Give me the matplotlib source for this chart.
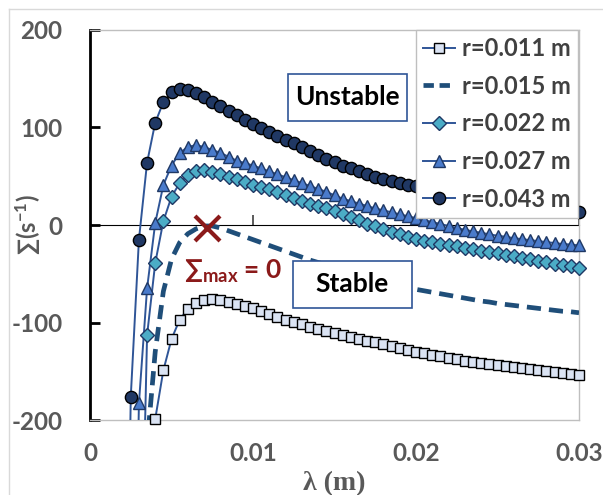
import numpy as np
import matplotlib
matplotlib.use("Agg")
import matplotlib.pyplot as plt
from matplotlib.lines import Line2D
from matplotlib.patches import Rectangle

plt.rcParams['font.family'] = ['Lato', 'DejaVu Sans']
plt.rcParams['mathtext.fontset'] = 'custom'
plt.rcParams['mathtext.rm'] = 'Lato:bold'
plt.rcParams['mathtext.it'] = 'Lato:bold'
plt.rcParams['mathtext.bf'] = 'Lato:bold'
plt.rcParams['axes.unicode_minus'] = False

nan = np.nan
# wavelength grid (m)
lam = [0.002, 0.0025, 0.003, 0.0035, 0.004, 0.0045, 0.005, 0.0055, 0.006, 0.0065,
       0.007, 0.0075, 0.008, 0.0085, 0.009, 0.0095, 0.010, 0.0105, 0.011, 0.0115,
       0.012, 0.0125, 0.013, 0.0135, 0.014, 0.0145, 0.015, 0.0155, 0.016, 0.0165,
       0.017, 0.0175, 0.018, 0.0185, 0.019, 0.0195, 0.020, 0.0205, 0.021, 0.0215,
       0.022, 0.0225, 0.023, 0.0235, 0.024, 0.0245, 0.025, 0.0255, 0.026, 0.0265,
       0.027, 0.0275, 0.028, 0.0285, 0.029, 0.0295, 0.030]

s_011 = [nan, nan, nan, -560, -199, -149, -117, -97, -86, -80,
         -77, -76, -77, -79, -81, -83, -85, -88, -91, -94,
         -97, -99.5, -102, -104.5, -106.5, -108.5, -110.5, -112.5, -114.5, -116.5,
         -118.5, -120.5, -122.5, -124.5, -126.5, -128.5, -130, -131.5, -133, -134.5,
         -136, -137.5, -139, -140.5, -141.5, -142.5, -143.5, -144.5, -145.5, -146.5,
         -147.5, -148.5, -149.5, -150.5, -151.5, -152.5, -153.5]
s_015 = [nan, nan, -600, -225, -130, -68, -35, -18, -9, -4,
         -1, -1, -3, -6, -9, -12, -15, -18, -21, -24,
         -27, -30, -33, -36, -38.5, -41, -43.5, -46, -48.5, -51,
         -53.5, -56, -58, -60, -62, -64, -66, -67.5, -69, -70.5,
         -72, -73.5, -75, -76.5, -78, -79, -80.5, -81.5, -82.5, -83.5,
         -84.5, -85.5, -86.5, -87.5, -88.5, -89, -90]
s_022 = [nan, nan, -480, -113, -39, 4, 29, 43, 51, 55,
         56, 54, 52, 49.5, 47, 44, 41.5, 39, 37, 34,
         31, 28, 25, 22, 19.5, 17, 14, 11, 8, 5,
         1.5, -1.5, -4.5, -7, -9.5, -12, -14, -16, -17.5, -19,
         -20.5, -22, -23.5, -25, -26.5, -28, -29, -30.5, -32, -33.5,
         -35, -36.5, -38, -39.5, -41, -42.5, -44]
s_027 = [nan, -650, -183, -65, 2, 41, 61, 74, 80, 82,
         80, 77, 74, 70, 66, 63.5, 61, 58, 55, 52,
         49, 46, 43, 40, 37, 34, 30.5, 27, 24.5, 22,
         19.5, 17, 15, 13, 11, 9, 7, 5, 3, 1,
         -1, -3, -5, -6.5, -8, -9.5, -11, -12, -13.5, -14.5,
         -15.5, -16.5, -17.5, -18.5, -19.5, -20, -21]
s_043 = [-700, -176, -15, 64, 105, 126, 136, 139, 138, 135,
         131, 126, 122, 117, 113, 108, 103.5, 99, 95, 91,
         87.5, 84, 80, 76, 72, 68, 64.5, 61, 58, 55,
         52, 49, 47, 45, 43, 41.5, 40, 38, 36, 34.5,
         33, 31, 29.5, 28, 26.5, 25, 23.5, 22, 21, 20,
         19, 18, 17, 16, 15, 14, 13]

labels = ["r=0.011 m", "r=0.015 m", "r=0.022 m", "r=0.027 m", "r=0.043 m"]
max_point = (0.0072, -3)

line_c = "#2F5597"
styles = [
    dict(marker="s", ms=7.2, mfc="#DAE3F3", mec="black"),
    None,
    dict(marker="D", ms=6.8, mfc="#4BACC6", mec="#1F3864"),
    dict(marker="^", ms=8.8, mfc="#4A7BCB", mec="#1F3864"),
    dict(marker="o", ms=8.8, mfc="#203864", mec="black"),
]

fig = plt.figure(figsize=(6.03, 4.95), dpi=100)
ax = fig.add_axes([0.1493, 0.1515, 0.9602 - 0.1493, 0.9394 - 0.1515])

x = np.array(lam)
handles = []
for vals, lab, st in zip([s_011, s_015, s_022, s_027, s_043], labels, styles):
    y = np.array(vals, dtype=float)
    if st is None:
        ax.plot(x, y, color="#1F4E79", lw=3.4, dashes=(3.0, 1.7), zorder=3)
        handles.append(Line2D([], [], color="#1F4E79", lw=3.4, dashes=(2.2, 1.2)))
        continue
    ax.plot(x, y, color=line_c, lw=1.4, zorder=3)
    ok = (y >= -202) & (y <= 200)
    ax.plot(x[ok], y[ok], ls="none", mew=1.0, zorder=4, clip_on=False, **st)
    handles.append(Line2D([], [], color=line_c, lw=1.4, mew=1.0, **st))

ax.plot(*max_point, marker="x", ms=18, mew=3, color="#8B1A1A", ls="none", zorder=6)
ax.text(0.00575, -48, r"∑$_{max}$ = 0", color="#8B1A1A", fontsize=19,
        fontweight="bold", ha="left", va="center", zorder=6)

# "Unstable" / "Stable" boxes
for bx, by, txt in [(0.405, 0.767, "Unstable"), (0.415, 0.287, "Stable")]:
    ax.add_patch(Rectangle((bx, by), 0.243, 0.121, transform=ax.transAxes,
                           fc="white", ec="#2F5597", lw=1.2, zorder=5))
    ax.text(bx + 0.1215, by + 0.0605, txt, transform=ax.transAxes, fontsize=19,
            fontweight="bold", color="black", ha="center", va="center", zorder=6)

ax.set_xlim(0, 0.03)
ax.set_ylim(-200, 200)
ax.set_xticks([0, 0.01, 0.02, 0.03])
ax.set_xticklabels(["0", "0.01", "0.02", "0.03"])
ax.set_yticks([-200, -100, 0, 100, 200])

for side in ["top", "right", "bottom"]:
    ax.spines[side].set_color("#BFBFBF")
    ax.spines[side].set_linewidth(1.0)
ax.spines["left"].set_color("black")
ax.spines["left"].set_linewidth(2.0)

ax.tick_params(axis="y", direction="in", length=7, width=2, colors="black",
               labelcolor="#595959", labelsize=17.5, pad=20)
ax.tick_params(axis="x", length=0, labelcolor="#595959", labelsize=17.5, pad=16)
for t in ax.get_xticklabels() + ax.get_yticklabels():
    t.set_fontweight("bold")

# horizontal axis crossing at zero
zero_ax = ax.secondary_xaxis(0.5)
zero_ax.set_xticks([0.01, 0.02, 0.03])
zero_ax.tick_params(direction="out", length=7, width=1.2, colors="#404040",
                    labelbottom=False, labeltop=False)
zero_ax.spines["bottom"].set_color("#404040")
zero_ax.spines["bottom"].set_linewidth(1.3)

ax.set_xlabel("λ (m)", fontsize=20, fontweight="bold", color="#595959",
              family="Liberation Serif")
ax.xaxis.set_label_coords(0.5, -0.132)
ax.set_ylabel(r"∑(s$^{-1}$)", fontsize=17, fontweight="bold", color="#595959")
ax.yaxis.set_label_coords(-0.097, 0.5)

leg = ax.legend(handles, labels, loc="upper right", bbox_to_anchor=(0.998, 1.0),
                borderaxespad=0, fancybox=False, framealpha=1, edgecolor="#BFBFBF",
                fontsize=17, handlelength=1.35, handletextpad=0.3, labelspacing=0.62,
                borderpad=0.3)
for t in leg.get_texts():
    t.set_color("#404040")
    t.set_fontweight("bold")
leg.set_zorder(7)

# outer frame
fig.add_artist(Line2D([0.015, 1.0], [0.982, 0.982], transform=fig.transFigure,
                      color="#D9D9D9", lw=1.0))
fig.add_artist(Line2D([0.015, 0.015], [0.0, 0.982], transform=fig.transFigure,
                      color="#D9D9D9", lw=1.0))

fig.savefig("out.png", dpi=100)
